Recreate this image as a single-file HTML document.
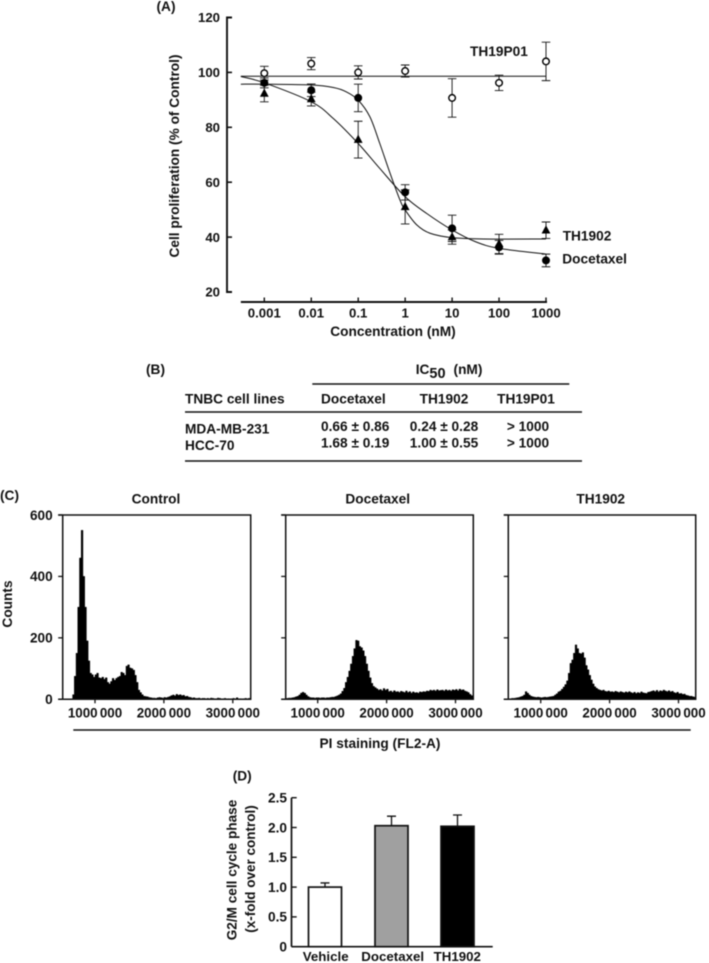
<!DOCTYPE html>
<html>
<head>
<meta charset="utf-8">
<title>TH1902 figure</title>
<style>
html,body{margin:0;padding:0;background:#fff;}
svg{display:block;filter:blur(0.45px);}
text{font-family:"Liberation Sans",sans-serif;font-weight:bold;fill:#111;font-size:13.7px;}
.m{text-anchor:middle;}
.e{text-anchor:end;}
.ln{stroke:#111;fill:none;}
</style>
</head>
<body>
<svg id="fig" xmlns="http://www.w3.org/2000/svg" width="709" height="963" viewBox="0 0 709 963">
  <rect x="0" y="0" width="709" height="963" fill="#fff"/>

  <!-- Panel A static text -->
  <g id="panelA">
    <text x="156.5" y="11">(A)</text>
    <text transform="translate(179,156) rotate(-90)" class="m">Cell proliferation (% of Control)</text>
    <text x="393" y="336" class="m">Concentration (nM)</text>
    <text x="470" y="56">TH19P01</text>
    <text x="562.7" y="240.7">TH1902</text>
    <text x="562.3" y="263.3">Docetaxel</text>
  </g>

  <!-- Panel B table -->
  <g id="panelB">
    <text x="146" y="374">(B)</text>
    <text x="415.7" y="374">IC<tspan dy="4" font-size="14.5">50</tspan><tspan dy="-4" dx="8">(nM)</tspan></text>
    <line x1="312.3" y1="384" x2="569.3" y2="384" class="ln" stroke-width="1.5"/>
    <text x="185" y="403.3">TNBC cell lines</text>
    <text x="321" y="403.3">Docetaxel</text>
    <text x="444" y="403.3" class="m">TH1902</text>
    <text x="526" y="403.3" class="m">TH19P01</text>
    <line x1="185" y1="412" x2="582" y2="412" class="ln" stroke-width="1.5"/>
    <text x="185" y="433.3">MDA-MB-231</text>
    <text x="321" y="431">0.66 ± 0.86</text>
    <text x="444" y="431" class="m">0.24 ± 0.28</text>
    <text x="528" y="431" class="m">&gt; 1000</text>
    <text x="185" y="450">HCC-70</text>
    <text x="321" y="447.7">1.68 ± 0.19</text>
    <text x="444" y="447.7" class="m">1.00 ± 0.55</text>
    <text x="528" y="447.7" class="m">&gt; 1000</text>
    <line x1="185" y1="461" x2="582" y2="461" class="ln" stroke-width="1.5"/>
  </g>

  <!-- Panel C static text -->
  <g id="panelC">
    <text x="0" y="500">(C)</text>
    <text x="156" y="503.3" class="m">Control</text>
    <text x="377.7" y="503.3" class="m">Docetaxel</text>
    <text x="600.7" y="503.3" class="m">TH1902</text>
    <text transform="translate(12,604) rotate(-90)" class="m">Counts</text>
    <line x1="73.3" y1="730" x2="690.7" y2="730" class="ln" stroke-width="1.4"/>
    <text x="380" y="748" class="m">PI staining (FL2-A)</text>
  </g>

  <!-- Panel D static text -->
  <g id="panelD">
    <text x="232.7" y="780.7">(D)</text>
    <text transform="translate(236.7,870) rotate(-90)" class="m" style="font-size:13.6px">G2/M cell cycle phase</text>
    <text transform="translate(255,869) rotate(-90)" class="m" style="font-size:13.5px">(x-fold over control)</text>
  </g>
</svg>

<script>
// ---------- Panel A data ----------
const doseLabels = ['0.001', '0.01', '0.1', '1', '10', '100', '1000'];
const doseLog = [-3, -2, -1, 0, 1, 2, 3];
const proliferationTicks = [20, 40, 60, 80, 100, 120];
const th19p01Values = [99.7, 103.2, 100, 100.5, 90.7, 96.2, 104];
const th19p01Errors = [2.5, 2.2, 2.4, 2.2, 7, 2.8, 7];
const th1902Values = [92.3, 90.3, 75.5, 51, 40, 37.5, 42.5];
const th1902Errors = [3, 2.5, 6.7, 6.2, 2.6, 3.5, 3];
const docetaxelValues = [96.2, 93.5, 90.7, 56.3, 43.2, 36.3, 31.5];
const docetaxelErrors = [1.8, 2.3, 5, 2.8, 4.8, 2.5, 2.3];
// fitted curves: log10 dose / % of control
const fitFlatLog = [-3.5, 3];
const fitFlatValues = [98.6, 98.6];
const fitGradualLog = [-3.5, -3, -2, -1.53, -1, -0.54, 0, 0.46, 1, 1.5, 2, 3];
const fitGradualValues = [98.5, 96.2, 89.3, 83.2, 74.1, 65, 54.7, 48.6, 42.6, 38.3, 35.9, 33.8];
const fitSteepLog = [-3.5, -3, -2, -1.53, -1.25, -1, -0.75, -0.54, -0.32, -0.11, 0, 0.25, 0.53, 1, 1.67, 3];
const fitSteepValues = [95.7, 95.7, 95.4, 94.5, 92.9, 89.9, 83.8, 74.1, 63.2, 53.5, 49.9, 44.4, 41.4, 39.8, 39.3, 39.3];

// ---------- Panel C data ----------
const histogramStart = 500000;
const histogramBinWidth = 25000;
const countTicks = [0, 200, 400, 600];
const eventTicks = [1000000, 2000000, 3000000];
const eventTickLabels = ['1000 000', '2000 000', '3000 000'];
const controlCounts = [0,0,0,0,0,0,0,15,75,150,300,460,550,400,300,190,125,85,80,72,80,85,70,68,72,65,70,55,50,58,68,62,68,72,75,88,85,78,108,112,102,100,95,78,55,30,22,15,10,9,8,6,5,4,4,3,5,6,5,4,6,5,7,9,12,14,11,16,13,15,12,13,9,10,7,6,4,5,3,3,4,2,3,3,2,3,2,4,3,2,2,4,3,1,2,3,1,2,1,2,3,1,5,1,2,1,2,3,2,3];
const docetaxelCounts = [2,3,3,4,4,5,6,8,10,14,20,23,20,14,9,6,5,5,4,5,5,4,5,5,4,5,5,6,7,7,9,11,14,18,26,36,55,72,92,115,140,165,192,190,172,168,158,140,115,92,70,52,42,38,34,30,32,28,35,30,33,25,27,23,28,24,25,22,26,24,22,27,22,25,20,24,21,22,20,24,23,25,24,27,26,30,28,30,27,31,28,29,30,27,31,28,30,27,31,29,32,28,33,30,31,27,25,22,16,12];
const th1902Counts = [1,2,2,3,3,4,5,6,8,10,14,25,20,14,10,8,7,6,7,6,5,6,7,6,7,8,9,10,14,18,24,27,33,40,48,60,85,117,128,150,177,165,150,148,152,135,110,96,78,63,50,41,36,32,30,28,30,26,25,27,24,25,23,26,24,22,25,23,21,24,22,25,22,20,23,19,22,20,24,21,20,19,23,24,26,28,25,29,24,28,26,30,27,25,28,24,26,22,20,23,18,19,16,17,13,12,10,10,8,7];

// ---------- Panel D data ----------
const barCategories = ['Vehicle', 'Docetaxel', 'TH1902'];
const barValues = [1.0, 2.03, 2.02];
const barErrors = [0.07, 0.16, 0.19];
const foldTicks = [0, 0.5, 1.0, 1.5, 2.0, 2.5];
const foldTickLabels = ['0', '0.5', '1.0', '1.5', '2.0', '2.5'];

// ---------- helpers ----------
const NS = 'http://www.w3.org/2000/svg';
function mk(parent, tag, attrs, txt) {
  const e = document.createElementNS(NS, tag);
  for (const k in attrs) e.setAttribute(k, attrs[k]);
  if (txt !== undefined) e.textContent = txt;
  parent.appendChild(e);
  return e;
}
function smoothPath(xs, ys) {
  let d = 'M' + xs[0].toFixed(2) + ' ' + ys[0].toFixed(2);
  for (let i = 0; i < xs.length - 1; i++) {
    const a = Math.max(i - 1, 0), b = Math.min(i + 2, xs.length - 1);
    const c1x = xs[i] + (xs[i + 1] - xs[a]) / 6, c1y = ys[i] + (ys[i + 1] - ys[a]) / 6;
    const c2x = xs[i + 1] - (xs[b] - xs[i]) / 6, c2y = ys[i + 1] - (ys[b] - ys[i]) / 6;
    d += 'C' + [c1x, c1y, c2x, c2y, xs[i + 1], ys[i + 1]].map(v => v.toFixed(2)).join(' ');
  }
  return d;
}
const svg = document.getElementById('fig');

// ---------- Panel A ----------
(function () {
  const g = document.getElementById('panelA');
  const xA = v => 405.15 + v * 46.95;
  const yA = v => 292 - (v - 20) * 2.745;

  const yAxis = mk(g, 'path', { d: 'M' + 232 + ' ' + yA(120) + 'H227V' + yA(20) + 'H232', class: 'ln', 'stroke-width': 1.9 });
  
  
  proliferationTicks.forEach(t => {
    const tick = mk(g, 'line', { x1: 227, x2: 232, y1: yA(t), y2: yA(t), class: 'ln', 'stroke-width': 1.6 });
    
    
    const lab = mk(g, 'text', { x: 220, y: yA(t) + 4.7, class: 'e', style: 'font-size:13.2px' }, String(t));
    
    
  });
  const xAxis = mk(g, 'line', { x1: xA(-3.5), x2: xA(3) + 1, y1: 302, y2: 302, class: 'ln', 'stroke-width': 1.9 });
  
  
  doseLog.forEach((d, i) => {
    const tick = mk(g, 'line', { x1: xA(d), x2: xA(d), y1: 302, y2: 297.5, class: 'ln', 'stroke-width': 1.4 });
    
    
    const lab = mk(g, 'text', { x: xA(d), y: 317.5, class: 'm', style: 'font-size:13.2px' }, doseLabels[i]);
    
    
  });

  const flat = mk(g, 'path', { d: smoothPath(fitFlatLog.map(xA), fitFlatValues.map(yA)), class: 'ln', 'stroke-width': 1 });
  
  
  const steep = mk(g, 'path', { d: smoothPath(fitSteepLog.map(xA), fitSteepValues.map(yA)), class: 'ln', 'stroke-width': 1 });
  
  
  const grad = mk(g, 'path', { d: smoothPath(fitGradualLog.map(xA), fitGradualValues.map(yA)), class: 'ln', 'stroke-width': 1 });
  
  

  function errorBar(x, v, err) {
    const top = yA(v + err), bot = yA(v - err);
    const bar = mk(g, 'path', {
      d: 'M' + (x - 4.3) + ' ' + top + 'H' + (x + 4.3) + 'M' + x + ' ' + top + 'V' + bot + 'M' + (x - 4.3) + ' ' + bot + 'H' + (x + 4.3),
      class: 'ln', 'stroke-width': 0.9
    });
    
    
  }
  doseLog.forEach((d, i) => {
    errorBar(xA(d), th19p01Values[i], th19p01Errors[i]);
    errorBar(xA(d), th1902Values[i], th1902Errors[i]);
    errorBar(xA(d), docetaxelValues[i], docetaxelErrors[i]);
  });
  doseLog.forEach((d, i) => {
    const x = xA(d), y = yA(th1902Values[i]);
    const tri = mk(g, 'path', { d: 'M' + x + ' ' + (y - 5) + 'L' + (x + 4.4) + ' ' + (y + 3.2) + 'H' + (x - 4.4) + 'Z', fill: '#000' });
    
    
  });
  doseLog.forEach((d, i) => {
    const c = mk(g, 'circle', { cx: xA(d), cy: yA(docetaxelValues[i]), r: 4, fill: '#000' });
    
    
  });
  doseLog.forEach((d, i) => {
    const c = mk(g, 'circle', { cx: xA(d), cy: yA(th19p01Values[i]), r: 3.3, fill: '#fff', stroke: '#000', 'stroke-width': 1.4 });
    
    
  });
})();

// ---------- Panel C ----------
(function () {
  const g = document.getElementById('panelC');
  const yC = v => 699.3 - v * 0.3072;
  function histogram(name, counts, left, right, tick1M, showCountLabels) {
    const xC = v => tick1M + (v - 1000000) * 68.9 / 1000000;
    let d = 'M' + xC(histogramStart).toFixed(2) + ' ' + yC(0);
    counts.forEach((c, i) => {
      const x0 = xC(histogramStart + i * histogramBinWidth);
      const x1 = xC(histogramStart + (i + 1) * histogramBinWidth);
      if (x0 >= left && x1 <= right + 0.5) {
        d += 'L' + x0.toFixed(2) + ' ' + yC(c).toFixed(2) + 'L' + x1.toFixed(2) + ' ' + yC(c).toFixed(2);
      } else if (x0 < left) {
        d = 'M' + x1.toFixed(2) + ' ' + yC(0);
      }
    });
    d += 'V' + yC(0) + 'Z';
    const h = mk(g, 'path', { d: d, fill: '#000', stroke: '#000', 'stroke-width': 0.5 });
    
    
    const frame = mk(g, 'path', { d: 'M' + (left - 4.5) + ' ' + yC(600) + 'H' + right + 'V' + yC(0) + 'H' + (left - 4.5) + 'M' + left + ' ' + yC(600) + 'V' + yC(0), class: 'ln', 'stroke-width': 1.5 });
    
    
    countTicks.forEach(t => {
      const tk = mk(g, 'line', { x1: left - 4.5, x2: left, y1: yC(t), y2: yC(t), class: 'ln', 'stroke-width': 1.3 });
      
      
      if (showCountLabels) {
        const lab = mk(g, 'text', { x: 52.7, y: yC(t) + 4.8, class: 'e', style: 'font-size:13.6px' }, String(t));
        
        
      }
    });
    eventTicks.forEach((t, i) => {
      const tk = mk(g, 'line', { x1: xC(t), x2: xC(t), y1: yC(0), y2: yC(0) + 4, class: 'ln', 'stroke-width': 1.3 });
      
      
      const lab = mk(g, 'text', { x: xC(t), y: 717.7, class: 'm', style: 'font-size:13.4px;word-spacing:-1.5px' }, eventTickLabels[i]);
      
      
    });
  }
  histogram('control', controlCounts, 62.7, 250.7, 95, true);
  histogram('docetaxel', docetaxelCounts, 285.7, 473.3, 317.7, false);
  histogram('th1902', th1902Counts, 508.3, 695.7, 540.7, false);
})();

// ---------- Panel D ----------
(function () {
  const g = document.getElementById('panelD');
  const yD = v => 946.7 - v * 59.6;
  const barCenters = [325, 391.5, 457.5];
  const barFills = ['#fff', '#a0a0a0', '#000'];
  const yAxis = mk(g, 'line', { x1: 291.5, x2: 291.5, y1: yD(2.5), y2: yD(0), class: 'ln', 'stroke-width': 1.7 });
  
  
  const xAxis = mk(g, 'line', { x1: 291.5, x2: 492.7, y1: yD(0), y2: yD(0), class: 'ln', 'stroke-width': 1.7 });
  
  
  foldTicks.forEach((t, i) => {
    const tk = mk(g, 'line', { x1: 291.5, x2: 296.7, y1: yD(t), y2: yD(t), class: 'ln', 'stroke-width': 1.4 });
    
    
    const lab = mk(g, 'text', { x: 287, y: yD(t) + 4.8, class: 'e' }, foldTickLabels[i]);
    
    
  });
  barCategories.forEach((c, i) => {
    const cx = barCenters[i];
    const err = mk(g, 'path', { d: 'M' + cx + ' ' + yD(barValues[i]) + 'V' + yD(barValues[i] + barErrors[i]) + 'M' + (cx - 4.5) + ' ' + yD(barValues[i] + barErrors[i]) + 'H' + (cx + 4.5), class: 'ln', 'stroke-width': 1.3 });
    
    
    const bar = mk(g, 'rect', { x: cx - 16.5, y: yD(barValues[i]), width: 33, height: yD(0) - yD(barValues[i]), fill: barFills[i], stroke: '#111', 'stroke-width': 1.7 });
    
    
    const lab = mk(g, 'text', { x: [325.7, 392.7, 457.3][i], y: 961, class: 'm', style: 'font-size:13.3px' }, c);
    
    
  });
})();
</script>
</body>
</html>
